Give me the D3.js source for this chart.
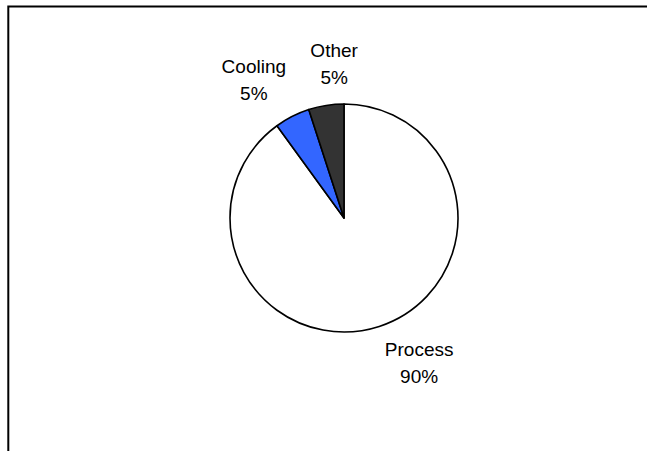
<!DOCTYPE html>
<html>
<head>
<meta charset="utf-8">
<script src="https://cdn.jsdelivr.net/npm/d3@7"></script>
<style>
  html, body { margin: 0; padding: 0; background: #fff; overflow: hidden; }
  svg { display: block; }
</style>
</head>
<body>
<svg id="chart" width="647" height="451"></svg>
<script>
// Data
const categories = ["Process", "Cooling", "Other"];
const values = [90, 5, 5];
const valueLabels = ["90%", "5%", "5%"];
const colors = ["#FFFFFF", "#3366FF", "#333333"];

const svg = d3.select("#chart");

// Chart area border (extends beyond the window on the right and bottom)
svg.append("rect")
  .attr("x", 8.3).attr("y", 6.5)
  .attr("width", 800).attr("height", 600)
  .attr("fill", "none")
  .attr("stroke", "#000")
  .attr("stroke-width", 2);

const cx = 344, cy = 218, r = 114;
const g = svg.append("g").attr("transform", `translate(${cx},${cy})`);

const pie = d3.pie().sort(null).value(d => d.value);
const data = categories.map((c, i) => ({ cat: c, value: values[i], label: valueLabels[i], color: colors[i] }));
const arcs = pie(data);
const arc = d3.arc().innerRadius(0).outerRadius(r);

g.selectAll("path.slice")
  .data(arcs)
  .enter().append("path")
  .attr("class", "slice")
  .attr("d", arc)
  .attr("fill", d => d.data.color)
  .attr("stroke", "#000")
  .attr("stroke-width", 1.6)
  .attr("stroke-linejoin", "round");

// Label layout: outside the pie along mid-angle, with nudges to avoid collisions
const labelArc = d3.arc().innerRadius(r + 45).outerRadius(r + 45);
const nudge = { "Process": [26, -7], "Cooling": [-18, 3], "Other": [15, 3] };
const fontSize = 19, lineGap = 27;

const labels = g.selectAll("g.lbl")
  .data(arcs)
  .enter().append("g")
  .attr("class", "lbl")
  .attr("transform", d => {
    const [x, y] = labelArc.centroid(d);
    const n = nudge[d.data.cat];
    return `translate(${x + n[0]},${y + n[1]})`;
  });

labels.append("text")
  .attr("text-anchor", "middle")
  .attr("font-family", "Liberation Sans, Arial, sans-serif")
  .attr("font-size", fontSize)
  .attr("fill", "#000")
  .attr("y", -lineGap / 2 + fontSize * 0.36)
  .text(d => d.data.cat);

labels.append("text")
  .attr("text-anchor", "middle")
  .attr("font-family", "Liberation Sans, Arial, sans-serif")
  .attr("font-size", fontSize)
  .attr("fill", "#000")
  .attr("y", lineGap / 2 + fontSize * 0.36)
  .text(d => d.data.label);
</script>
</body>
</html>
